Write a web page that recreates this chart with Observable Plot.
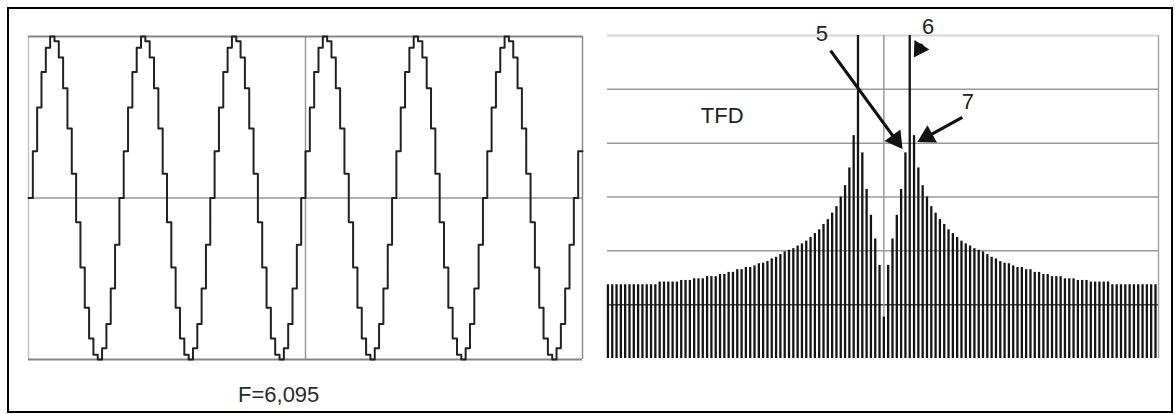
<!DOCTYPE html>
<html><head><meta charset="utf-8">
<script src="https://cdn.jsdelivr.net/npm/d3@7"></script>
<script src="https://cdn.jsdelivr.net/npm/@observablehq/plot@0.6"></script>
<style>
body{margin:0;background:#fff;font-family:"Liberation Sans",Arial,sans-serif;}
#wrap{position:relative;width:1175px;height:414px;overflow:hidden;background:#fff;}
#left{position:absolute;left:0;top:0;}
#right{position:absolute;left:600px;top:0;}
#border{position:absolute;left:7px;top:7px;width:1162px;height:402px;border:2px solid #000;pointer-events:none;}
#cap{position:absolute;left:238px;top:384px;font-size:22px;line-height:1;color:#2a2a2a;white-space:nowrap;}
</style></head><body>
<div id="wrap"><div id="left"></div><div id="right"></div><div id="cap">F=6,095</div><div id="border"></div></div>
<script>
const signal = [
 0, 0.29, 0.56, 0.78, 0.93, 1.00, 0.97, 0.87, 0.68, 0.43, 0.15, -0.15, -0.43, -0.68, -0.87, -0.97, -1.00, -0.93, -0.78, -0.56, -0.29,
 0, 0.29, 0.56, 0.78, 0.93, 1.00, 0.97, 0.87, 0.68, 0.43, 0.15, -0.15, -0.43, -0.68, -0.87, -0.97, -1.00, -0.93, -0.78, -0.56, -0.29,
 0, 0.29, 0.56, 0.78, 0.93, 1.00, 0.97, 0.87, 0.68, 0.43, 0.15, -0.15, -0.43, -0.68, -0.87, -0.97, -1.00, -0.93, -0.78, -0.56, -0.29,
 0, 0.29, 0.56, 0.78, 0.93, 1.00, 0.97, 0.87, 0.68, 0.43, 0.15, -0.15, -0.43, -0.68, -0.87, -0.97, -1.00, -0.93, -0.78, -0.56, -0.29,
 0, 0.29, 0.56, 0.78, 0.93, 1.00, 0.97, 0.87, 0.68, 0.43, 0.15, -0.15, -0.43, -0.68, -0.87, -0.97, -1.00, -0.93, -0.78, -0.56, -0.29,
 0, 0.29, 0.56, 0.78, 0.93, 1.00, 0.97, 0.87, 0.68, 0.43, 0.15, -0.15, -0.43, -0.68, -0.87, -0.97, -1.00, -0.93, -0.78, -0.56, -0.29,
 0, 0.29
];
const leftGridX = [64];
const leftFrameX = [0, 128];
const leftGridY = [0];
const leftFrameY = [-1, 1];

// ---- Right panel: DFT magnitude, bins -64..63 ----
const bins = d3.range(-64, 64);
const magnitude = [
 13.7, 13.7, 13.7, 13.7, 13.7, 13.7, 13.7, 13.7, 13.7, 13.7, 13.7, 13.7,          // -64..-53
 14.2, 14.2, 14.2, 14.2, 14.2, 14.5, 14.5, 14.5, 14.8, 14.8, 14.8,                // -52..-42
 15.2, 15.2, 15.2, 15.6, 15.6, 16.0, 16.0, 16.5, 16.5, 16.9, 16.9,                // -41..-31
 17.2, 17.6, 17.7, 18.0, 18.5, 18.8, 19.3, 19.8, 20.1, 20.4, 20.9,                // -30..-20
 21.3, 21.8, 22.5, 23.2, 23.9, 24.9, 25.8, 27.0, 28.2, 30.0, 32.1,                // -19..-9
 35.4, 41.4, 60, 38.2, 31.4, 26.6, 22.2, 17.3,                                    // -8..-1
 7.7,                                                                             // 0
 17.3, 22.2, 26.6, 31.4, 38.2, 60, 41.4, 35.4,                                    // 1..8
 32.1, 30.0, 28.2, 27.0, 25.8, 24.9, 23.9, 23.2, 22.5, 21.8, 21.3,                // 9..19
 20.9, 20.4, 20.1, 19.8, 19.3, 18.8, 18.5, 18.0, 17.7, 17.6, 17.2,                // 20..30
 16.9, 16.9, 16.5, 16.5, 16.0, 16.0, 15.6, 15.6, 15.2, 15.2, 15.2,                // 31..41
 14.8, 14.8, 14.8, 14.5, 14.5, 14.5, 14.2, 14.2, 14.2, 14.2, 14.2,                // 42..52
 13.7, 13.7, 13.7, 13.7, 13.7, 13.7, 13.7, 13.7, 13.7, 13.7, 13.7                 // 53..63
];
const gridLevels = [20, 30, 40, 50];
const darkLevel = [10];
const topLevel = [60];
const centerBin = [0];
const xDomain = [-64.1, 63.7];
const yDomain = [0, 60];
const rightEdge = [xDomain[1]];

// annotations (data coordinates: bin, magnitude)
const labelText = ["TFD", "5", "6", "7"];
const labelBin = [-37.5, -14.4, 10.25, 19.5];
const labelMag = [45.1, 60.2, 61.5, 47.6];
// arrows 5, 6 (head only), 7
const arrowFromBin = [-12.36, 8.91, 18.19];
const arrowFromMag = [57.2, 58.4, 44.8];
const arrowToBin = [4.33, 6.94, 7.75];
const arrowToMag = [38.9, 55.9, 40.2];
const headSize = [9.4, 8.4, 9.4];

const font = "'Liberation Sans', Arial, sans-serif";

const sig = signal.map((v, i) => ({i, v}));
sig.push({i: signal.length, v: signal[signal.length - 1]});

const left = Plot.plot({
  width: 600, height: 380,
  marginLeft: 28, marginRight: 18, marginTop: 36, marginBottom: 21,
  style: {background: "transparent", fontFamily: font, overflow: "visible"},
  x: {domain: [0, 128], axis: null},
  y: {domain: [-1, 1], axis: null},
  marks: [
    Plot.ruleX(leftGridX, {stroke: "#9a9a9a", strokeWidth: 1.5}),
    Plot.ruleY(leftGridY, {stroke: "#9a9a9a", strokeWidth: 1.5}),
    Plot.ruleX(leftFrameX, {stroke: (d) => d === 0 ? "#c4c4c4" : "#8a8a8a", strokeWidth: 1.5}),
    Plot.ruleY(leftFrameY, {stroke: "#858585", strokeWidth: 2}),
    Plot.line(sig, {x: "i", y: "v", curve: "step-after", stroke: "#222", strokeWidth: 2})
  ]
});
document.getElementById("left").appendChild(left);

// right chart geometry
const RW = 575, RH = 380, mL = 7, mR = 17, mT = 35, mB = 22;
const kx = (RW - mL - mR) / (xDomain[1] - xDomain[0]);
const ky = (RH - mT - mB) / (yDomain[1] - yDomain[0]);

const spec = bins.map((b, k) => ({b, m: magnitude[k]}));
const labels = labelText.map((t, k) => ({t, x: labelBin[k], y: labelMag[k]}));
const arrows = arrowFromBin.map((_, k) => {
  const x1 = arrowFromBin[k], y1 = arrowFromMag[k], x2 = arrowToBin[k], y2 = arrowToMag[k];
  const dx = (x2 - x1) * kx, dy = -(y2 - y1) * ky;
  const L = Math.hypot(dx, dy), ux = dx / L, uy = dy / L;
  const s = headSize[k] * Math.sqrt(Math.PI) * 0.6824; // circumradius of triangle2
  return {
    x1, y1, x2, y2,
    cx: x2 - s * ux / kx, cy: y2 + s * uy / ky,
    rot: Math.atan2(ux, -uy) * 180 / Math.PI,
    r: headSize[k]
  };
});

const right = Plot.plot({
  width: RW, height: RH,
  marginLeft: mL, marginRight: mR, marginTop: mT, marginBottom: mB,
  style: {background: "transparent", fontFamily: font, overflow: "visible"},
  x: {type: "linear", domain: xDomain, axis: null},
  y: {domain: yDomain, axis: null},
  r: {type: "identity"},
  marks: [
    Plot.ruleY(gridLevels, {stroke: "#9a9a9a", strokeWidth: 1.5}),
    Plot.ruleY(darkLevel, {stroke: "#444", strokeWidth: 1.5}),
    Plot.ruleY(topLevel, {stroke: "#d6d6d6", strokeWidth: 2}),
    Plot.ruleX(centerBin, {stroke: "#9a9a9a", strokeWidth: 1.5}),
    Plot.ruleX(rightEdge, {stroke: "#a8a8a8", strokeWidth: 1.5}),
    Plot.ruleX(spec, {x: "b", y1: 0, y2: "m", stroke: "#151515", strokeWidth: 2.3}),
    Plot.link(arrows, {x1: "x1", y1: "y1", x2: "cx", y2: "cy", stroke: "#111", strokeWidth: 3.2}),
    Plot.dot(arrows, {x: "cx", y: "cy", symbol: "triangle2", r: "r", rotate: "rot", fill: "#111", stroke: "none"}),
    Plot.text(labels, {x: "x", y: "y", text: "t", fontSize: 22, fill: "#222"})
  ]
});
document.getElementById("right").appendChild(right);
</script>
</body></html>
